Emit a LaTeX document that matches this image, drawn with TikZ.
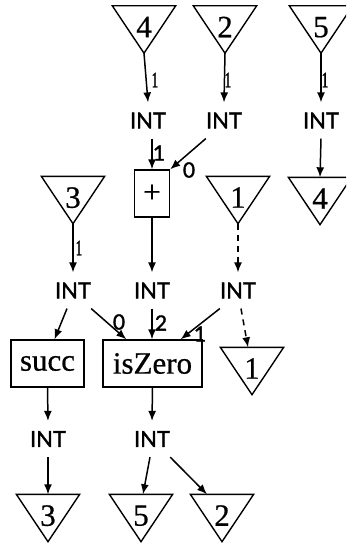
\documentclass[tikz,border=0pt]{standalone}
\usepackage{fontspec}
\usetikzlibrary{arrows.meta}
\newfontfamily\serifw[FakeBold=0.6]{Liberation Serif}
\newfontfamily\thinserif[FakeStretch=0.6,FakeBold=1.5]{Liberation Serif}
\newfontfamily\intfont[FakeBold=1.5]{Lato}
\begin{document}
\begin{tikzpicture}[x=1pt,y=-1pt,
  arr/.style={line width=1.5pt,-{Latex[length=10pt,width=8pt]}},
  dash arr/.style={arr,dash pattern=on 6pt off 5pt},
  tri/.style={minimum width=63pt,minimum height=47pt,inner sep=0pt,
    font=\serifw\fontsize{31}{31}\selectfont,text depth=5pt},
  triline/.style={line width=1.4pt,line join=miter},
  box/.style={draw,line width=1.4pt,minimum height=47pt,inner sep=0pt,
    font=\serifw\fontsize{31}{31}\selectfont},
  int/.style={font=\intfont\fontsize{22}{22}\selectfont,minimum width=32pt,
    inner xsep=0pt,inner ysep=10pt},
  port/.style={font=\intfont\fontsize{21}{21}\selectfont,inner sep=0pt},
  thin/.style={font=\thinserif\fontsize{22}{22}\selectfont,inner sep=0pt}]
\path[use as bounding box,clip] (0,0) rectangle (346,543);

% constants
\node[tri] (t4a) at (144,29.5) {4};
\node[tri] (t2a) at (225,29.5) {2};
\node[tri] (t5a) at (321,29.5) {5};
\node[tri] (t3a) at (73,200) {3};
\node[tri] (t1a) at (238,200) {1};
\node[tri] (t4b) at (320,201) {4};
\node[tri] (t1b) at (252,371) {1};
\node[tri] (t3b) at (48,518) {3};
\node[tri] (t5b) at (141,518) {5};
\node[tri] (t2b) at (222,518) {2};
\foreach \n in {t4a,t2a,t5a,t3a,t1a,t4b,t1b,t3b,t5b,t2b}
  \draw[triline] (\n.north west) -- (\n.north east) -- (\n.south) -- cycle;

% operators
\node[box,minimum width=35pt] (plus) at (152,193.5) {+};
\node[box,minimum width=73pt] (succ) at (47.5,363.5) {succ};
\node[box,minimum width=99pt] (isz) at (152.5,363.5) {isZero};

% types
\node[int] (i1) at (148,120.5) {INT};
\node[int] (i2) at (224,120.5) {INT};
\node[int] (i3) at (321,120.5) {INT};
\node[int] (i4) at (73,290.5) {INT};
\node[int] (i5) at (152,290.5) {INT};
\node[int] (i6) at (238,290.5) {INT};
\node[int] (i7) at (48,439) {INT};
\node[int] (i8) at (152,439) {INT};

% connectors
\draw[arr] (t4a.south) -- (i1.north);
\draw[arr] (t2a.south) -- (i2.north);
\draw[arr] (t5a.south) -- (i3.north);
\draw[arr] ([xshift=4pt]i1.south) -- (plus.north);
\draw[arr] (i2.south west) -- (plus.north east);
\draw[arr] (i3.south) -- (t4b.north);
\draw[arr] (t3a.south) -- (i4.north);
\draw[arr] (plus.south) -- (i5.north);
\draw[dash arr] (t1a.south) -- (i6.north);
\draw[arr] ([xshift=-6pt]i4.south) -- ([xshift=7pt]succ.north);
\draw[arr] (i4.south east) -- ([xshift=24pt]isz.north west);
\draw[arr] (i5.south) -- ([xshift=-0.5pt]isz.north);
\draw[arr] (i6.south west) -- ([xshift=-22pt]isz.north east);
\draw[dash arr] ([xshift=3pt]i6.south) -- ([xshift=-4pt]t1b.north);
\draw[arr] (succ.south) -- (i7.north);
\draw[arr] (isz.south) -- (i8.north);
\draw[arr] (i7.south) -- (t3b.north);
\draw[arr] ([xshift=-2pt]i8.south) -- ([xshift=2pt]t5b.north);
\draw[arr] (i8.south east) -- ([xshift=-15pt]t2b.north);

% edge labels
\node[thin] (l1) at (155,80) {1};
\node[thin] (l2) at (228,80) {1};
\node[thin] (l3) at (325,80) {1};
\node[thin] (l4) at (79,248) {1};
\node[port] (p1) at (159,153) {1};
\node[port] (p2) at (189,170) {0};
\node[port] (p3) at (119,322) {0};
\node[port] (p4) at (161,323) {2};
\node[port] (p5) at (200,334) {1};
\end{tikzpicture}
\end{document}
